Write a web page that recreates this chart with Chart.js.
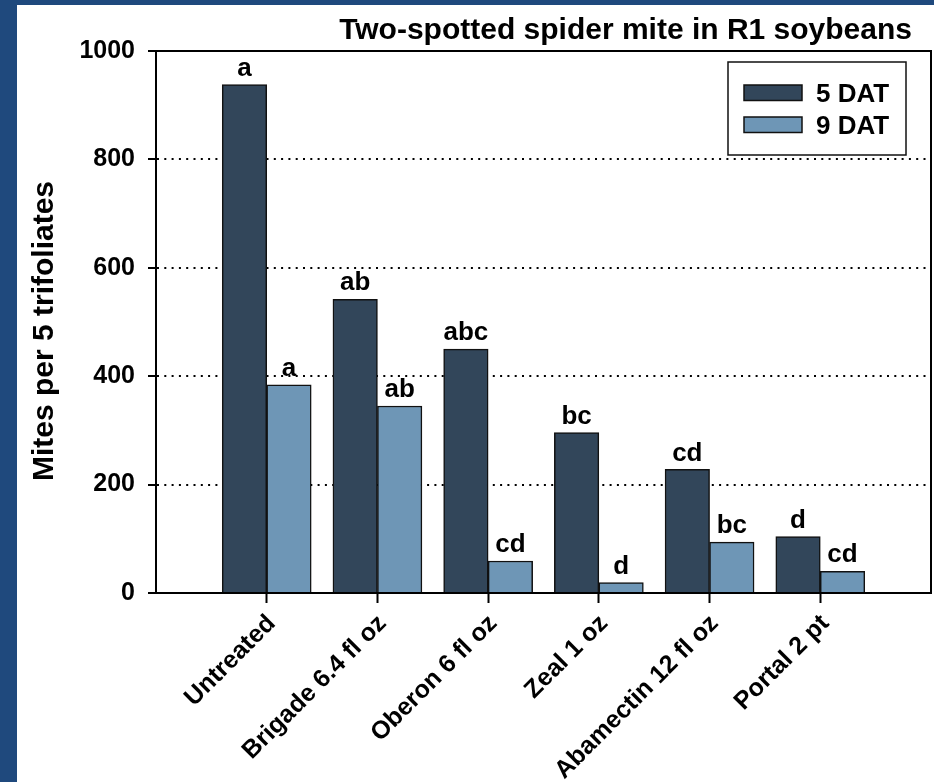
<!DOCTYPE html>
<html>
<head>
<meta charset="utf-8">
<script src="https://cdn.jsdelivr.net/npm/chart.js@4.4.1/dist/chart.umd.min.js"></script>
<style>
  html, body { margin: 0; padding: 0; background: #fff; }
  #wrap { width: 934px; height: 782px; }
</style>
</head>
<body>
<div id="wrap"><canvas id="chart" width="934" height="782"></canvas></div>
<script>
// data
const treatments = ["Untreated", "Brigade 6.4 fl oz", "Oberon 6 fl oz", "Zeal 1 oz", "Abamectin 12 fl oz", "Portal 2 pt"];
const dat5 = [938, 542, 450, 296, 228, 104];
const dat9 = [384, 345, 59, 19, 94, 40];
const letters5 = ["a", "ab", "abc", "bc", "cd", "d"];
const letters9 = ["a", "ab", "cd", "d", "bc", "cd"];
const seriesNames = ["5 DAT", "9 DAT"];
const yTicks = [0, 200, 400, 600, 800, 1000];

const FONT = 'Arial, "Liberation Sans", sans-serif';
const dark = "#32465a";
const light = "#6e96b6";
const navy = "#1f497d";

// empty slot at each end so the groups sit one slot in from the frame
let labels = [""].concat(treatments, [""]);
let d5 = [null].concat(dat5, [null]);
let d9 = [null].concat(dat9, [null]);

const decor = {
    id: "decor",
    beforeDraw(chart) {
        const ctx = chart.ctx;
        ctx.save();
        ctx.fillStyle = "#fff";
        ctx.fillRect(0, 0, chart.width, chart.height);
        ctx.fillStyle = navy;
        ctx.fillRect(0, 0, 17, chart.height);
        ctx.fillRect(0, 0, chart.width, 5);
        ctx.restore();
    },
    afterDatasetsDraw(chart) {
        const ctx = chart.ctx;
        ctx.save();
        ctx.fillStyle = "#000";
        ctx.font = "bold 26px " + FONT;
        ctx.textAlign = "center";
        ctx.textBaseline = "bottom";
        [letters5, letters9].forEach((lets, di) => {
            chart.getDatasetMeta(di).data.forEach((bar, i) => {
                if (i == 0 || i > lets.length) return;
                ctx.fillText(lets[i - 1], bar.x, bar.y - 3);
            });
        });
        ctx.restore();
    },
    afterDraw(chart) {
        const ctx = chart.ctx;
        const a = chart.chartArea;
        ctx.save();

        // top and right frame
        ctx.strokeStyle = "#000";
        ctx.lineWidth = 2;
        ctx.beginPath();
        ctx.moveTo(a.left, a.top);
        ctx.lineTo(a.right, a.top);
        ctx.lineTo(a.right, a.bottom);
        ctx.stroke();

        // title
        ctx.fillStyle = "#000";
        ctx.font = "bold 30px " + FONT;
        ctx.textAlign = "right";
        ctx.textBaseline = "alphabetic";
        ctx.fillText("Two-spotted spider mite in R1 soybeans", 912, 39);

        // y axis title
        ctx.save();
        ctx.translate(53, 331);
        ctx.rotate(-Math.PI / 2);
        ctx.font = "bold 30px " + FONT;
        ctx.textAlign = "center";
        ctx.fillText("Mites per 5 trifoliates", 0, 0);
        ctx.restore();

        // legend
        ctx.lineWidth = 1.5;
        ctx.strokeStyle = "#111";
        ctx.fillStyle = "#fff";
        ctx.fillRect(728, 62, 178, 93);
        ctx.strokeRect(728, 62, 178, 93);
        const cols = [dark, light];
        seriesNames.forEach((name, i) => {
            let y = 85 + i * 32;
            ctx.fillStyle = cols[i];
            ctx.fillRect(744, y, 58, 15.5);
            ctx.strokeRect(744, y, 58, 15.5);
            ctx.fillStyle = "#000";
            ctx.font = "bold 26px " + FONT;
            ctx.textAlign = "left";
            ctx.fillText(name, 816, y + 17);
        });
        ctx.restore();
    }
};

new Chart(document.getElementById("chart"), {
    type: "bar",
    data: {
        labels: labels,
        datasets: [
            { label: seriesNames[0], data: d5, backgroundColor: dark, borderColor: "#111", borderWidth: 1.5, barThickness: 44.5 },
            { label: seriesNames[1], data: d9, backgroundColor: light, borderColor: "#111", borderWidth: 1.5, barThickness: 44.5 }
        ]
    },
    options: {
        responsive: false,
        animation: false,
        layout: { padding: { left: 17, top: 51, right: 3, bottom: 0 } },
        plugins: {
            legend: { display: false },
            tooltip: { enabled: false }
        },
        scales: {
            x: {
                offset: false,
                afterFit: s => { s.height = 189; s.paddingLeft = 0; s.paddingRight = 0; },
                grid: {
                    offset: false,
                    drawOnChartArea: false,
                    tickLength: 10,
                    tickWidth: 2,
                    tickColor: c => (c.index == 0 || c.index == labels.length - 1) ? "rgba(0,0,0,0)" : "#000"
                },
                border: { color: "#000", width: 2 },
                ticks: {
                    autoSkip: false,
                    maxRotation: 45,
                    minRotation: 45,
                    padding: 6,
                    labelOffset: 5,
                    color: "#000",
                    font: { family: FONT, size: 25, weight: "bold" }
                }
            },
            y: {
                min: 0,
                max: 1000,
                afterFit: s => { s.width = 139; },
                afterBuildTicks: s => { s.ticks = yTicks.map(v => ({ value: v })); },
                grid: {
                    color: c => (c.tick && c.tick.value > 0 && c.tick.value < 1000) ? "#000" : "rgba(0,0,0,0)",
                    lineWidth: 2,
                    tickLength: 8,
                    tickWidth: 2,
                    tickColor: "#000"
                },
                border: { color: "#000", width: 2, dash: [2, 5.3] },
                ticks: {
                    padding: 13,
                    color: "#000",
                    callback: v => String(v),
                    font: { family: FONT, size: 25, weight: "bold" }
                }
            }
        }
    },
    plugins: [decor]
});
</script>
</body>
</html>
